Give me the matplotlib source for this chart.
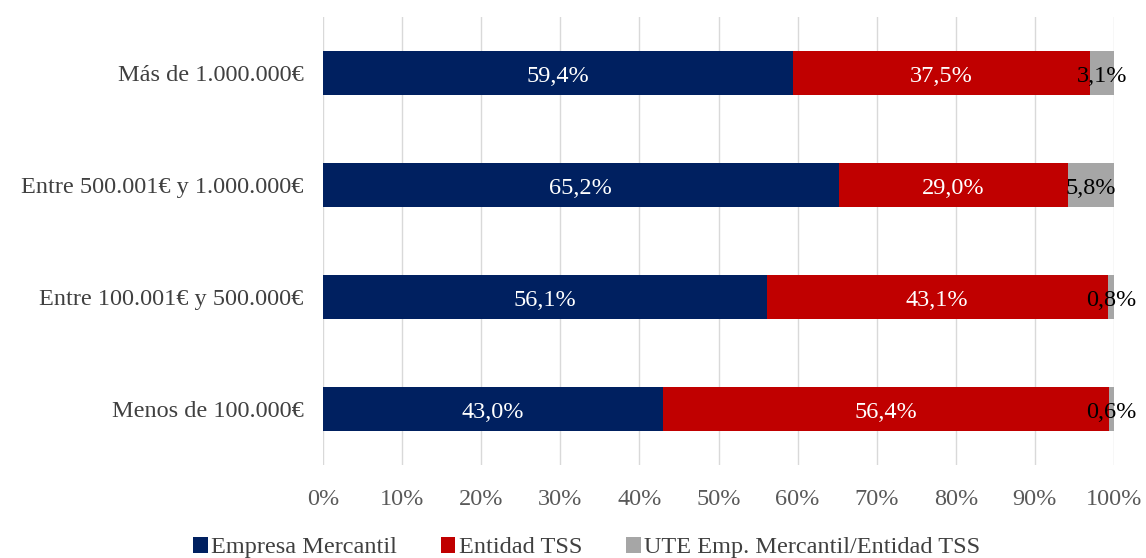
import matplotlib.pyplot as plt
import numpy as np

# ── Data ──────────────────────────────────────────────────────────────────────
categories = ["Menos de 100.000€", "Entre 100.001€ y 500.000€",
              "Entre 500.001€ y 1.000.000€", "Más de 1.000.000€"]
series_names = ["Empresa Mercantil", "Entidad TSS",
                "UTE Emp. Mercantil/Entidad TSS"]
empresa = [43.0, 56.1, 65.2, 59.4]
entidad = [56.4, 43.1, 29.0, 37.5]
ute = [0.6, 0.8, 5.8, 3.1]

colors = ["#002060", "#C00000", "#A6A6A6"]
label_colors = ["white", "white", "black"]

plt.rcParams["font.family"] = ["Liberation Serif", "DejaVu Serif"]
FS = 17.5

fig = plt.figure(figsize=(11.46, 5.58), dpi=100)
ax = fig.add_axes([0.2819, 0.1667, 0.6902, 0.8028])

y = np.arange(len(categories))
left = np.zeros(len(categories))
for name, vals, col, tcol in zip(series_names, [empresa, entidad, ute],
                                 colors, label_colors):
    vals = np.array(vals)
    ax.barh(y, vals, left=left, height=0.4, color=col, label=name, zorder=3)
    # value labels, nudged a touch below the bar centre
    for yi, l, v in zip(y, left, vals):
        ax.text(l + v / 2, yi - 0.03, f"{v:.1f}%".replace(".", ","),
                ha="center", va="center", color=tcol, fontsize=FS, zorder=4)
    left += vals

ax.set_xlim(0, 100)
ax.set_ylim(-0.5, 3.5)
ax.set_xticks(np.arange(0, 101, 10))
ax.set_xticklabels([f"{t}%" for t in range(0, 101, 10)])
ax.set_yticks(y)
ax.set_yticklabels(categories)
ax.tick_params(axis="x", length=0, labelsize=FS, labelcolor="#595959", pad=17)
ax.tick_params(axis="y", length=0, labelsize=FS, labelcolor="#404040", pad=14)
ax.grid(axis="x", color="#D9D9D9", linewidth=1, zorder=0)
for s in ax.spines.values():
    s.set_visible(False)

fig.legend(loc="lower center", bbox_to_anchor=(0.512, -0.04), ncol=3,
           frameon=False, fontsize=FS, handlelength=0.6, handleheight=0.6,
           handletextpad=0.15, columnspacing=1.8, labelcolor="#404040")

fig.savefig("out.png", dpi=100)
